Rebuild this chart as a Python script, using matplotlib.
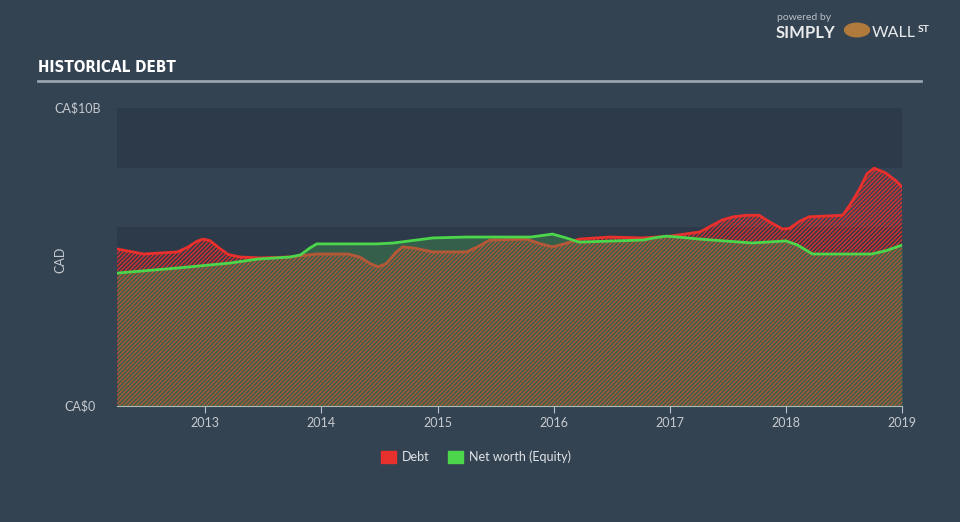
import numpy as np
import matplotlib
matplotlib.use("Agg")
import matplotlib.pyplot as plt
from matplotlib.patches import Patch, Circle
from matplotlib.lines import Line2D

# datos (años decimales, miles de millones CAD)
debt_x = [2012.24, 2012.47, 2012.76, 2012.85, 2012.93, 2012.98, 2013.04, 2013.12,
          2013.20, 2013.30, 2013.47, 2013.73, 2013.96, 2014.23, 2014.33, 2014.42,
          2014.49, 2014.56, 2014.64, 2014.70, 2014.80, 2014.96, 2015.25, 2015.35,
          2015.45, 2015.77, 2015.88, 2015.99, 2016.10, 2016.22, 2016.48, 2016.77,
          2017.00, 2017.26, 2017.36, 2017.45, 2017.55, 2017.66, 2017.77, 2017.85,
          2017.97, 2018.03, 2018.12, 2018.20, 2018.49, 2018.56, 2018.63, 2018.70,
          2018.76, 2018.86, 2018.95, 2019.00]
debt_y = [5.27, 5.10, 5.17, 5.33, 5.53, 5.60, 5.55, 5.30,
          5.08, 5.00, 4.97, 5.00, 5.10, 5.10, 5.00, 4.78,
          4.67, 4.78, 5.15, 5.34, 5.30, 5.17, 5.17, 5.35,
          5.57, 5.60, 5.45, 5.34, 5.45, 5.60, 5.67, 5.64,
          5.70, 5.84, 6.05, 6.24, 6.35, 6.40, 6.40, 6.20,
          5.94, 5.96, 6.20, 6.35, 6.40, 6.80, 7.25, 7.80,
          7.98, 7.82, 7.55, 7.35]

equity_x = [2012.24, 2012.76, 2013.22, 2013.45, 2013.73, 2013.82, 2013.90, 2013.96,
            2014.48, 2014.62, 2014.96, 2015.25, 2015.80, 2015.90, 2015.99, 2016.10,
            2016.22, 2016.77, 2016.88, 2016.97, 2017.10, 2017.26, 2017.71, 2018.00,
            2018.10, 2018.23, 2018.74, 2018.87, 2019.00]
equity_y = [4.46, 4.63, 4.80, 4.93, 5.00, 5.07, 5.30, 5.44,
            5.44, 5.47, 5.64, 5.67, 5.67, 5.72, 5.77, 5.65,
            5.50, 5.57, 5.65, 5.70, 5.66, 5.60, 5.47, 5.54,
            5.40, 5.10, 5.10, 5.22, 5.40]

year_ticks = [2013, 2014, 2015, 2016, 2017, 2018, 2019]

BG = "#344352"
DARK = "#2d3a49"
LIGHT = "#344354"
RED = "#e8302c"
GREEN = "#4cd64c"
TXT = "#c5cad0"

plt.rcParams["hatch.linewidth"] = 1.1
plt.rcParams["font.family"] = ["Lato", "DejaVu Sans"]

fig = plt.figure(figsize=(9.6, 5.22), dpi=100, facecolor=BG)
ax = fig.add_axes([117/960, 1-406/522, 785/960, 298/522])
ax.set_facecolor(DARK)

# banda clara entre 6B y 8B
ax.axhspan(6, 8, color=LIGHT, lw=0, zorder=0)

# deuda: rayado rojo
ax.fill_between(debt_x, 0, debt_y, facecolor="none", edgecolor=RED, hatch="////////",
                linewidth=0, alpha=0.85, zorder=1)
ax.plot(debt_x, debt_y, color=RED, lw=2, zorder=2, solid_joinstyle="round")
# patrimonio: verde semitransparente
ax.fill_between(equity_x, 0, equity_y, color="#4caf50", alpha=0.32, linewidth=0, zorder=3)
ax.plot(equity_x, equity_y, color=GREEN, lw=2, zorder=4, solid_joinstyle="round")

ax.set_xlim(2012.24, 2019.0)
ax.set_ylim(0, 10)
ax.set_xticks(year_ticks)
ax.set_xticklabels([str(y) for y in year_ticks], color=TXT, fontsize=9)
ax.set_yticks([])
ax.tick_params(axis="x", colors="#b8c0c8", length=5, pad=3, labelcolor=TXT)
for s in ["top", "right", "left"]:
    ax.spines[s].set_visible(False)
ax.spines["bottom"].set_color("#b8c0c8")

fig.text(101/960, 1-108/522, "CA$10B", ha="right", va="center", color=TXT, fontsize=9)
fig.text(96/960, 1-406/522, "CA$0", ha="right", va="center", color=TXT, fontsize=9)
fig.text(60/960, 1-260/522, "CAD", ha="center", va="center", rotation=90, color=TXT, fontsize=9)

# titulo
fig.text(38/960, 1-68/522, "HISTORICAL DEBT", ha="left", va="center", color="white",
         fontsize=11, fontweight="bold", fontstretch="condensed",
         family=["Liberation Sans Narrow", "DejaVu Sans"])
fig.add_artist(Line2D([38/960, 921/960], [1-81/522, 1-81/522], color="#9aa3ad", lw=2))

# leyenda
handles = [Patch(color=RED, label="Debt"), Patch(color=GREEN, label="Net worth (Equity)")]
leg = fig.legend(handles=handles, loc="center", bbox_to_anchor=(476/960, 1-457/522), ncol=2,
                 frameon=False, fontsize=9, handlelength=1.2, handleheight=1.1,
                 columnspacing=1.5, handletextpad=0.5)
for t in leg.get_texts():
    t.set_color("#e0e4e8")

# logo
fig.text(777/960, 1-18/522, "powered by", color="#b8c0c8", fontsize=7.5, va="center")
fig.text(776/960, 1-33/522, "SIMPLY", color="#e8eaec", fontsize=12, fontweight="bold", va="center")
fig.add_artist(Circle((857/960, 1-30/522), 0.013, transform=fig.transFigure,
                      color="#b07a3c", zorder=5))
fig.text(872/960, 1-33/522, "WALL", color="#e8eaec", fontsize=11.5, va="center")
fig.text(918/960, 1-30/522, "ST", color="#e8eaec", fontsize=7.5, fontweight="bold", va="center")

fig.savefig("out.png", dpi=100, facecolor=BG)
